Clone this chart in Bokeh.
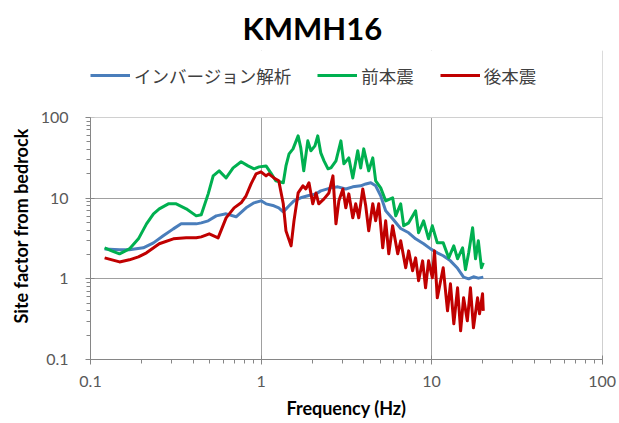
from bokeh.plotting import figure
from bokeh.models import (Range1d, FixedTicker, CustomJSTickFormatter,
                          Legend, LegendItem, BoxAnnotation, Title)
from bokeh.embed import file_html
from bokeh.resources import INLINE

# Site amplification factor relative to bedrock, station KMMH16
series_names = ["インバージョン解析", "前本震", "後本震"]

inv_freq = [0.121, 0.148, 0.169, 0.204, 0.234, 0.267, 0.306, 0.340, 0.364, 0.417,
            0.446, 0.490, 0.546, 0.624, 0.714, 0.817, 0.910, 1.0, 1.07, 1.19,
            1.27, 1.35, 1.46, 1.56, 1.71, 1.88, 2.10, 2.24, 2.57, 2.82,
            3.14, 3.45, 3.84, 4.11, 4.40, 4.70, 5.03, 5.38, 5.91, 6.59,
            7.34, 8.06, 8.98, 9.87, 10.8, 11.7, 12.9, 14.2, 15.4, 16.5,
            17.6, 18.8, 20.1]
inv_amp = [2.35, 2.29, 2.29, 2.42, 2.79, 3.41, 4.16, 4.80, 4.80, 4.80,
           4.94, 5.23, 6.03, 6.39, 5.87, 7.58, 8.75, 9.26, 8.5, 8.03,
           7.58, 6.76, 8.03, 9.26, 10.1, 10.7, 11.3, 12.3, 13.4, 13.8,
           13.0, 13.8, 14.2, 15.0, 15.5, 14.2, 10.7, 6.96, 5.54, 4.2,
           3.72, 3.13, 2.72, 2.35, 2.10, 1.93, 1.67, 1.35, 1.05, 1.0,
           1.06, 1.02, 1.05]

fore_freq = [0.121, 0.133, 0.148, 0.169, 0.191, 0.213, 0.234, 0.253, 0.286, 0.318,
             0.364, 0.417, 0.446, 0.490, 0.524, 0.568, 0.624, 0.686, 0.764, 0.839,
             0.910, 0.973, 1.07, 1.14, 1.22, 1.35, 1.40, 1.46, 1.54, 1.65,
             1.71, 1.78, 1.88, 1.96, 2.07, 2.15, 2.24, 2.34, 2.47, 2.57,
             2.75, 2.94, 3.06, 3.27, 3.45, 3.69, 3.84, 4.00, 4.28, 4.52,
             4.70, 5.03, 5.38, 5.91, 6.16, 6.59, 6.86, 7.34, 8.06, 8.39,
             8.98, 9.60, 10.1, 10.8, 11.7, 12.6, 13.5, 14.2, 15.2, 15.8,
             16.5, 17.4, 18.1, 18.8, 19.6, 20.1]
fore_amp = [2.42, 2.22, 2.04, 2.35, 3.13, 4.80, 6.39, 7.37, 8.5, 8.5,
            7.37, 6.03, 6.21, 11.3, 18.9, 21.8, 17.8, 23.7, 28.2, 25.1,
            23.1, 24.4, 25.1, 20.6, 16.4, 15.5, 25.1, 35.4, 40.8, 59.2,
            42.0, 21.8, 51.3, 38.6, 44.5, 59.2, 36.4, 29.0, 23.1, 23.7,
            29.0, 51.3, 26.6, 31.6, 17.8, 38.6, 23.7, 40.8, 21.8, 31.6,
            16.4, 13.4, 9.26, 10.1, 6.03, 8.5, 4.54, 4.94, 6.96, 3.72,
            5.23, 3.13, 4.54, 2.79, 2.79, 1.82, 2.56, 1.77, 2.42, 1.3,
            2.10, 4.29, 1.77, 2.96, 1.37, 1.58]

after_freq = [0.121, 0.148, 0.169, 0.191, 0.213, 0.253, 0.306, 0.364, 0.417, 0.446,
              0.497, 0.560, 0.624, 0.695, 0.764, 0.817, 0.874, 0.935, 1.0, 1.07,
              1.11, 1.19, 1.27, 1.35, 1.40, 1.50, 1.56, 1.65, 1.76, 1.83,
              1.91, 2.01, 2.10, 2.18, 2.34, 2.50, 2.64, 2.75, 2.86, 3.02,
              3.14, 3.27, 3.45, 3.59, 3.74, 3.95, 4.11, 4.28, 4.52, 4.70,
              4.90, 5.17, 5.38, 5.61, 5.91, 6.33, 6.59, 7.05, 7.34, 7.74,
              8.06, 8.39, 8.86, 9.22, 9.60, 10.1, 10.4, 10.8, 11.3, 11.7,
              12.4, 12.9, 13.5, 14.2, 14.8, 15.4, 16.2, 16.9, 17.6, 18.6,
              19.1, 19.9, 20.1]
after_amp = [1.82, 1.62, 1.72, 1.87, 2.10, 2.72, 3.13, 3.22, 3.22, 3.31,
             3.61, 3.22, 5.70, 7.58, 8.75, 10.7, 15.0, 20.0, 21.2, 18.9,
             20.0, 17.8, 16.4, 8.5, 3.93, 2.56, 5.23, 11.6, 14.2, 13.0,
             15.5, 8.5, 11.6, 8.5, 9.8, 11.6, 18.9, 4.80, 9.26, 13.0,
             7.58, 11.3, 5.70, 8.5, 5.70, 13.0, 8.03, 3.93, 8.5, 5.23,
             8.5, 2.42, 5.23, 2.04, 4.54, 2.04, 2.96, 1.37, 2.22, 1.26,
             1.82, 0.945, 1.67, 0.774, 1.67, 1.03, 2.22, 0.581, 0.945, 1.37,
             0.401, 0.867, 0.277, 0.774, 0.227, 0.581, 0.302, 0.774, 0.247, 0.581,
             0.368, 0.652, 0.401]

major_ticks = [0.1, 1, 10, 100]
minor_ticks = [m * 10.0 ** e for e in (-1, 0, 1) for m in range(2, 10)]

colors = ["#4a7ebb", "#00b050", "#c00000"]
GRID = "#a0a0a0"
AXIS = "#868686"

# The frame reaches above the 0.1-100 decades to leave a white band for the
# legend row; the axes and grid only cover 0.1-100.
Y_TOP = 676

p = figure(width=619, height=423, x_axis_type="log", y_axis_type="log",
           x_range=Range1d(0.1, 100.5), y_range=Range1d(0.1, Y_TOP),
           output_backend="svg", toolbar_location=None,
           min_border_left=90, min_border_right=17,
           min_border_top=50, min_border_bottom=64,
           background_fill_color="white", border_fill_color="white")
p.outline_line_color = None

p.title.text = "KMMH16"
p.title.text_font = "Lato"
p.title.text_font_style = "bold"
p.title.text_font_size = "31px"
p.title.text_color = "#000000"
p.title.align = "left"
p.title.offset = 152
p.title.standoff = 8

fmt = CustomJSTickFormatter(code="return tick < 1 ? tick.toFixed(1) : tick.toFixed(0);")
for ax in (p.xaxis[0], p.yaxis[0]):
    ax.ticker = FixedTicker(ticks=major_ticks, minor_ticks=minor_ticks)
    ax.formatter = fmt
    ax.axis_line_color = AXIS
    ax.major_tick_line_color = AXIS
    ax.minor_tick_line_color = AXIS
    ax.major_tick_in = 4
    ax.major_tick_out = 5
    ax.minor_tick_in = 0
    ax.minor_tick_out = 4
    ax.major_label_text_font = "Lato"
    ax.major_label_text_font_size = "16px"
    ax.major_label_text_color = "#595959"
    ax.axis_label_text_font = "Lato"
    ax.axis_label_text_font_style = "bold"
    ax.axis_label_text_font_size = "18px"
    ax.axis_label_text_color = "#000000"

p.yaxis.bounds = (0.1, 100)
p.xaxis.axis_label = "Frequency (Hz)"
p.xaxis.major_label_standoff = 11
p.yaxis.major_label_standoff = 17
p.xaxis.axis_label_standoff = 7

# y-axis title, anchored at the bottom of the 0.1-100 span
ytitle = Title(text="Site factor from bedrock", align="left", offset=36,
               vertical_align="bottom", standoff=12,
               text_font="Lato", text_font_style="bold", text_font_size="18px",
               text_color="#000000")
p.add_layout(ytitle, "left")

for g in (p.xgrid[0], p.ygrid[0]):
    g.ticker = FixedTicker(ticks=major_ticks)
    g.grid_line_color = GRID
    g.grid_line_width = 1

r_inv = p.line(inv_freq, inv_amp, line_color=colors[0], line_width=3, line_join="round")
r_fore = p.line(fore_freq, fore_amp, line_color=colors[1], line_width=3, line_join="round")
r_after = p.line(after_freq, after_amp, line_color=colors[2], line_width=3, line_join="round")

# white band above 100 hides the grid there
p.add_layout(BoxAnnotation(bottom=100, fill_color="white", fill_alpha=1.0,
                           line_color=None))

legend = Legend(items=[LegendItem(label=series_names[0], renderers=[r_inv]),
                       LegendItem(label=series_names[1], renderers=[r_fore]),
                       LegendItem(label=series_names[2], renderers=[r_after])],
                orientation="horizontal", location=(0, 271),
                glyph_width=40, glyph_height=26, label_height=26,
                label_standoff=4, spacing=26, padding=0, margin=0,
                border_line_color=None, background_fill_alpha=0,
                label_text_font="Noto Sans CJK JP", label_text_font_size="17.5px",
                label_text_color="#404040")
p.add_layout(legend, "center")

open("out.html", "w").write(file_html(p, INLINE))
